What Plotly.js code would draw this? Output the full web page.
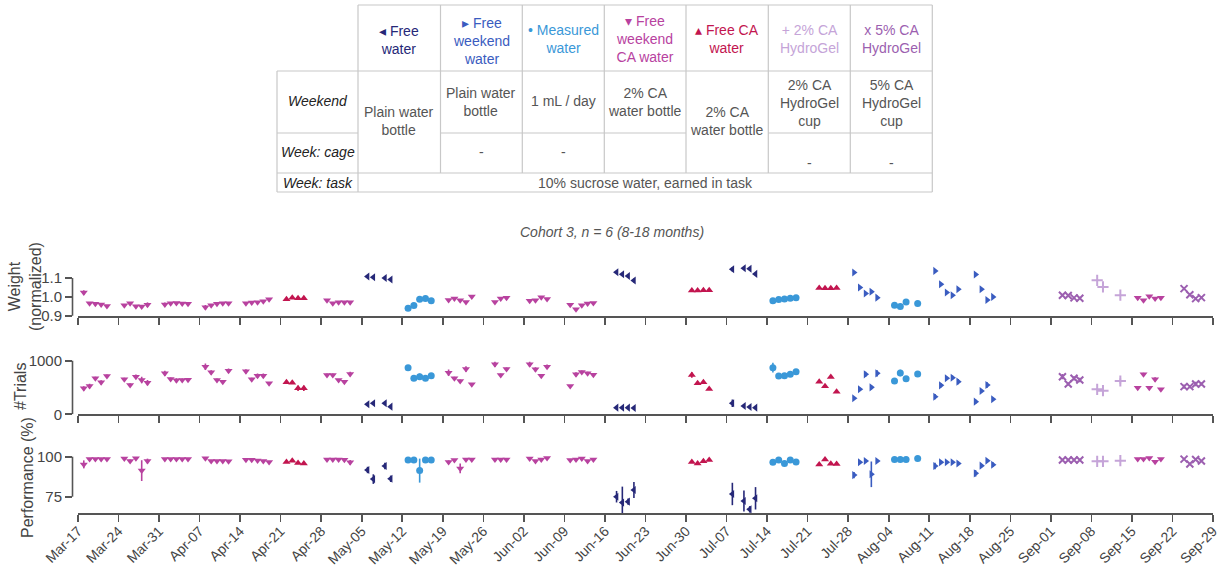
<!DOCTYPE html>
<html>
<head>
<meta charset="utf-8">
<script src="https://cdn.plot.ly/plotly-3.0.1.min.js"></script>
<style>html,body{margin:0;padding:0;background:#fff;}#chart{width:1225px;height:567px;}</style>
</head>
<body>
<div id="chart"></div>
<script>
// ---------------- DATA ----------------
const tickLabels = ["Mar-17","Mar-24","Mar-31","Apr-07","Apr-14","Apr-21","Apr-28","May-05","May-12","May-19","May-26","Jun-02","Jun-09","Jun-16","Jun-23","Jun-30","Jul-07","Jul-14","Jul-21","Jul-28","Aug-04","Aug-11","Aug-18","Aug-25","Sep-01","Sep-08","Sep-15","Sep-22","Sep-29"];
const tickDates = ["2024-03-17","2024-03-24","2024-03-31","2024-04-07","2024-04-14","2024-04-21","2024-04-28","2024-05-05","2024-05-12","2024-05-19","2024-05-26","2024-06-02","2024-06-09","2024-06-16","2024-06-23","2024-06-30","2024-07-07","2024-07-14","2024-07-21","2024-07-28","2024-08-04","2024-08-11","2024-08-18","2024-08-25","2024-09-01","2024-09-08","2024-09-15","2024-09-22","2024-09-29"];

// Free water (◄)
const fwDates = ["2024-05-06","2024-05-07","2024-05-09","2024-05-10","2024-06-18","2024-06-19","2024-06-20","2024-06-21","2024-07-08","2024-07-10","2024-07-11","2024-07-12"];
const fwWeight = [1.108,1.104,1.100,1.092,1.131,1.120,1.111,1.087,1.147,1.152,1.149,1.122];
const fwWeightErr = [0,0,0,0,0,0,0,0.01,0.012,0,0,0];
const fwTrials = [186,205,205,143,124,124,124,118,205,155,137,124];
const fwTrialsErr = [20,25,25,15,10,10,10,10,70,15,15,15];
const fwPerf = [91.7,86.0,94.2,86.2,75.0,71.3,71.9,79.2,76.7,72.3,67.1,74.0];
const fwPerfErr = [2,3,2,2,3.6,10,2,5,7,6.5,2,7];

// Free weekend water (►)
const fwwDates = ["2024-07-29","2024-07-30","2024-07-31","2024-08-01","2024-08-02","2024-08-12","2024-08-13","2024-08-14","2024-08-15","2024-08-16","2024-08-19","2024-08-20","2024-08-21","2024-08-22"];
const fwwWeight = [1.129,1.050,1.018,1.027,0.996,1.138,1.067,1.023,1.009,1.041,1.119,1.041,0.984,1.000];
const fwwWeightErr = [0,0,0.008,0.01,0.01,0,0,0,0,0.01,0,0,0.01,0.01];
const fwwTrials = [298,466,745,503,764,329,540,671,683,609,236,435,547,280];
const fwwTrialsErr = [20,30,50,40,60,50,40,30,40,50,40,30,50,30];
const fwwPerf = [88.5,96.5,97.3,89.0,97.3,94.2,96.5,96.5,96.5,95.8,89.6,94.4,97.5,95.0];
const fwwPerfErr = [2,0.5,0.5,8,0.5,2,1,0.5,0.5,1,2,1,0.5,1.5];

// Measured water (●)
const mwDates = ["2024-05-13","2024-05-14","2024-05-15","2024-05-16","2024-05-17","2024-07-15","2024-07-16","2024-07-17","2024-07-18","2024-07-19","2024-08-05","2024-08-06","2024-08-07","2024-08-09"];
const mwWeight = [0.940,0.954,0.988,0.991,0.980,0.979,0.986,0.989,0.993,0.995,0.956,0.949,0.973,0.965];
const mwWeightErr = [0,0,0.012,0,0,0,0,0,0,0,0,0,0,0];
const mwTrials = [870,671,702,671,720,870,714,720,745,795,621,770,665,752];
const mwTrialsErr = [40,40,60,40,40,90,40,40,40,50,20,60,20,20];
const mwPerf = [97.9,97.9,91.3,97.9,97.9,96.5,97.9,95.8,97.9,96.7,98.3,98.3,98.3,98.8];
const mwPerfErr = [0,0,7.5,0,0,1,0.5,1,0.5,0.5,0,0,0,0];

// Free weekend CA water (▼)
const fwcaDates = ["2024-03-18","2024-03-19","2024-03-20","2024-03-21","2024-03-22",
  "2024-03-25","2024-03-26","2024-03-27","2024-03-28","2024-03-29",
  "2024-04-01","2024-04-02","2024-04-03","2024-04-04","2024-04-05",
  "2024-04-08","2024-04-09","2024-04-10","2024-04-11","2024-04-12",
  "2024-04-15","2024-04-16","2024-04-17","2024-04-18","2024-04-19",
  "2024-04-29","2024-04-30","2024-05-01","2024-05-02","2024-05-03",
  "2024-05-20","2024-05-21","2024-05-22","2024-05-23","2024-05-24",
  "2024-05-28","2024-05-29","2024-05-30",
  "2024-06-03","2024-06-04","2024-06-05","2024-06-06",
  "2024-06-10","2024-06-11","2024-06-12","2024-06-13","2024-06-14",
  "2024-09-16","2024-09-17","2024-09-18","2024-09-19","2024-09-20"];
const fwcaWeight = [1.023,0.966,0.963,0.960,0.952,
  0.956,0.966,0.950,0.949,0.959,
  0.960,0.966,0.967,0.965,0.964,
  0.945,0.956,0.964,0.966,0.966,
  0.966,0.970,0.972,0.977,0.988,
  0.982,0.966,0.972,0.972,0.972,
  0.984,0.991,0.982,0.973,1.002,
  0.973,0.991,0.996,
  0.979,0.982,0.998,0.989,
  0.958,0.935,0.956,0.965,0.968,
  0.996,0.982,1.004,0.991,0.996];
const fwcaWeightErr = [0.012,0,0,0,0, 0,0,0,0,0.012, 0.01,0,0,0,0, 0.012,0,0,0,0, 0,0,0,0,0, 0,0,0,0,0, 0,0,0,0,0, 0,0,0, 0,0,0,0, 0,0,0,0,0, 0,0,0,0.008,0];
const fwcaTrials = [484,528,671,596,714,
  652,547,702,640,590,
  764,658,634,640,646,
  888,783,640,609,814,
  801,652,720,720,578,
  733,733,640,609,752,
  776,671,621,845,559,
  932,733,845,
  932,839,720,888,
  528,745,789,764,739,
  497,745,497,652,466];
const fwcaTrialsErr = [40,40,30,40,30, 30,30,40,60,50, 50,30,40,30,30, 60,40,30,30,40, 40,30,40,40,20, 30,30,20,30,40, 60,30,30,50,20, 50,30,30, 50,40,30,40, 20,40,30,30,30, 20,30,20,40,20];
const fwcaPerf = [95.2,98.5,98.5,98.5,98.5,
  98.8,97.3,99.0,91.3,97.3,
  98.5,98.5,98.5,98.5,98.5,
  99.0,97.3,97.3,97.3,97.1,
  98.1,98.1,97.7,97.3,96.7,
  98.3,98.3,98.3,98.1,96.5,
  96.7,97.9,92.7,98.3,98.3,
  98.3,98.3,98.3,
  98.8,97.3,98.3,99.2,
  97.9,98.3,98.8,97.3,98.3,
  98.5,98.5,99.2,96.9,98.5];
const fwcaPerfErr = [2.5,0,0,0,0, 0,1,0,6.5,1.5, 0,0,0,0,0, 0,0,0,0,0, 0,0,0,0,0, 0,0,0,0,1.5, 1,0,3,0,0, 0,0,0, 0,0,0,0, 0,0,0,0,0, 0,0,0,1,0];

// Free CA water (▲)
const fcaDates = ["2024-04-22","2024-04-23","2024-04-24","2024-04-25","2024-07-01","2024-07-02","2024-07-03","2024-07-04","2024-07-23","2024-07-24","2024-07-25","2024-07-26"];
const fcaWeight = [0.988,0.996,0.993,0.993,1.034,1.034,1.035,1.035,1.047,1.046,1.046,1.047];
const fcaTrials = [596,590,484,484,733,578,596,472,609,522,696,422];
const fcaTrialsErr = [30,20,50,50,50,20,30,20,20,20,20,20];
const fcaPerf = [96.7,97.5,96.0,95.8,96.7,95.8,97.1,97.9,95.2,98.3,95.6,95.4];

// 2% CA HydroGel (+)
const hg2Dates = ["2024-09-09","2024-09-10","2024-09-13"];
const hg2Weight = [1.088,1.053,1.009];
const hg2Trials = [466,441,621];
const hg2TrialsErr = [20,20,50];
const hg2Perf = [97.1,97.1,97.5];

// 5% CA HydroGel (x)
const hg5Dates = ["2024-09-03","2024-09-04","2024-09-05","2024-09-06","2024-09-24","2024-09-25","2024-09-26","2024-09-27"];
const hg5Weight = [1.009,1.007,0.995,0.993,1.044,1.011,0.991,0.996];
const hg5WeightErr = [0,0,0,0,0,0,0.008,0.008];
const hg5Trials = [702,565,671,640,516,516,565,565];
const hg5TrialsErr = [50,30,40,40,40,30,40,30];
const hg5Perf = [97.9,97.9,97.9,97.9,98.5,95.4,98.3,97.3];

// ---------------- STYLE / LAYOUT ----------------
const FONT = "Liberation Sans, Arial, Helvetica, sans-serif";
const AX = "#555555";
const W = 1225, H = 567;
const ML = 72, MR = 12, MT = 260, MB = 54;
const PW = W - ML - MR, PH = H - MT - MB;
const px2x = px => (px - ML) / PW;
const py2y = py => (H - MB - py) / PH;

function panel(topPx, botPx, refVal, refPx, pxPerUnit) {
  const v = p => refVal + (refPx - p) / pxPerUnit;
  return {domain: [py2y(botPx), py2y(topPx)], range: [v(botPx), v(topPx)]};
}
const P1 = panel(262, 316, 1.0, 296.9, 188.5);
const P2 = panel(340, 414.3, 0, 414.3, 0.0536);
const P3 = panel(440, 513, 100, 456.7, 1.6);

const conds = [
  {name:"Free weekend CA water", color:"#b8429f", symbol:"triangle-down", size:7, d:fwcaDates, w:fwcaWeight, we:fwcaWeightErr, t:fwcaTrials, te:fwcaTrialsErr, p:fwcaPerf, pe:fwcaPerfErr},
  {name:"Free CA water", color:"#c2154f", symbol:"triangle-up", size:7, d:fcaDates, w:fcaWeight, we:null, t:fcaTrials, te:fcaTrialsErr, p:fcaPerf, pe:null},
  {name:"Free water", color:"#262878", symbol:"triangle-left", size:7, d:fwDates, w:fwWeight, we:fwWeightErr, t:fwTrials, te:fwTrialsErr, p:fwPerf, pe:fwPerfErr},
  {name:"Measured water", color:"#3a98d8", symbol:"circle", size:7, d:mwDates, w:mwWeight, we:mwWeightErr, t:mwTrials, te:mwTrialsErr, p:mwPerf, pe:mwPerfErr},
  {name:"Free weekend water", color:"#3a5cc0", symbol:"triangle-right", size:7, d:fwwDates, w:fwwWeight, we:fwwWeightErr, t:fwwTrials, te:fwwTrialsErr, p:fwwPerf, pe:fwwPerfErr},
  {name:"2% CA HydroGel", color:"#c5a4d8", symbol:"cross-thin-open", size:8, d:hg2Dates, w:hg2Weight, we:null, t:hg2Trials, te:hg2TrialsErr, p:hg2Perf, pe:null},
  {name:"5% CA HydroGel", color:"#9c5fb0", symbol:"x-thin-open", size:7, d:hg5Dates, w:hg5Weight, we:hg5WeightErr, t:hg5Trials, te:hg5TrialsErr, p:hg5Perf, pe:null}
];

const traces = [];
conds.forEach(c => {
  const open = c.symbol.indexOf("open") >= 0;
  const marker = {symbol:c.symbol, size:c.size, color:c.color, line:{width: open ? 2 : 0, color:c.color}};
  const mk = (y, e, xa, ya) => {
    const tr = {type:"scatter", mode:"markers", x:c.d, y:y, xaxis:xa, yaxis:ya, marker:marker, name:c.name, showlegend:false, cliponaxis:false, hoverinfo:"x+y"};
    if (e) tr.error_y = {type:"data", array:e, visible:true, thickness:1.6, width:0, color:c.color};
    return tr;
  };
  traces.push(mk(c.w, c.we, "x", "y"));
  traces.push(mk(c.t, c.te, "x2", "y2"));
  traces.push(mk(c.p, c.pe, "x3", "y3"));
});

const xdom = [px2x(78), 1];
const xBase = {type:"date", domain:xdom, range:[tickDates[0], tickDates[tickDates.length-1]],
  tickmode:"array", tickvals:tickDates, ticktext:tickLabels,
  showline:true, linecolor:AX, linewidth:1.6, ticks:"outside", ticklen:7, tickwidth:1.6, tickcolor:AX,
  showgrid:false, zeroline:false, fixedrange:true};
const yBase = {anchor:"free", position:0, showline:false, ticks:"outside", ticklen:7, tickwidth:1.6, tickcolor:AX,
  showgrid:false, zeroline:false, tickfont:{size:15, color:"#444"}, tickmode:"array", fixedrange:true};

const layout = {
  width:W, height:H, margin:{l:ML, r:MR, t:MT, b:MB, pad:0},
  paper_bgcolor:"#fff", plot_bgcolor:"rgba(0,0,0,0)",
  font:{family:FONT, color:"#444", size:14},
  showlegend:false,
  xaxis: Object.assign({}, xBase, {anchor:"y", showticklabels:false}),
  xaxis2: Object.assign({}, xBase, {anchor:"y2", showticklabels:false}),
  xaxis3: Object.assign({}, xBase, {anchor:"y3", showticklabels:true, tickangle:-45, ticklabelstandoff:-4, tickfont:{size:14, color:"#444"}}),
  yaxis: Object.assign({}, yBase, {domain:P1.domain, range:P1.range, tickvals:[0.9,1.0,1.1], ticktext:["0.9","1.0","1.1"]}),
  yaxis2: Object.assign({}, yBase, {domain:P2.domain, range:P2.range, tickvals:[0,1000], ticktext:["0","1000"]}),
  yaxis3: Object.assign({}, yBase, {domain:P3.domain, range:P3.range, tickvals:[75,100], ticktext:["75","100"]}),
  shapes:[], annotations:[]
};

// partial y axis lines
[["y",0.9,1.1],["y2",0,1000],["y3",75,100]].forEach(([ya,a,b]) => {
  layout.shapes.push({type:"line", xref:"paper", yref:ya, x0:px2x(72.5), x1:px2x(72.5), y0:a, y1:b, line:{color:AX, width:1.6}});
});

const ann = (text, xpx, ypx, opts) => Object.assign({text:text, xref:"paper", yref:"paper", x:px2x(xpx), y:py2y(ypx), showarrow:false, xanchor:"center", yanchor:"middle"}, opts||{});
layout.annotations.push(ann("Weight<br>(normalized)", 25, 287, {textangle:-90, font:{size:16, color:"#444"}}));
layout.annotations.push(ann("#Trials", 20, 387, {textangle:-90, font:{size:16, color:"#444"}}));
layout.annotations.push(ann("Performance (%)", 27, 478, {textangle:-90, font:{size:16, color:"#444"}}));
layout.annotations.push(ann("<i>Cohort 3, n = 6 (8-18 months)</i>", 612, 231.5, {font:{size:14, color:"#555"}}));

// ---------------- TABLE ----------------
const cols = [277, 358, 440.5, 522.3, 604.3, 686, 768.3, 850.3, 932.3];
const BC = "#c8c8c8";
const hl = (y, x0, x1) => layout.shapes.push({type:"line", xref:"paper", yref:"paper", x0:px2x(x0), x1:px2x(x1), y0:py2y(y), y1:py2y(y), line:{color:BC, width:1.2}});
const vl = (x, y0, y1) => layout.shapes.push({type:"line", xref:"paper", yref:"paper", x0:px2x(x), x1:px2x(x), y0:py2y(y0), y1:py2y(y1), line:{color:BC, width:1.2}});
hl(5, cols[1], cols[8]);
hl(71, cols[0], cols[8]);
hl(133, cols[0], cols[1]);
hl(133, cols[2], cols[5]);
hl(133, cols[6], cols[8]);
hl(173, cols[0], cols[8]);
hl(192, cols[0], cols[8]);
vl(cols[0], 71, 192);
vl(cols[1], 5, 192);
for (let i = 2; i < 8; i++) vl(cols[i], 5, 173);
vl(cols[8], 5, 192);

const cx = i => (cols[i] + cols[i+1]) / 2;
const headers = [
  ["◂ Free<br>water", "#262878", 40.5],
  ["▸ Free<br>weekend<br>water", "#3a5cc0", 40.6],
  ["• Measured<br>water", "#3a98d8", 38.7],
  ["▾ Free<br>weekend<br>CA water", "#b8429f", 39.4],
  ["▴ Free CA<br>water", "#c2154f", 38.7],
  ["+ 2% CA<br>HydroGel", "#c5a4d8", 38.5],
  ["x 5% CA<br>HydroGel", "#9c5fb0", 38.5]
];
headers.forEach((h, i) => layout.annotations.push(ann(h[0], cx(i+1), h[2], {font:{size:14, color:h[1]}})));

const rowLabels = [["Weekend", 101], ["Week: cage", 152], ["Week: task", 183]];
rowLabels.forEach(r => layout.annotations.push(ann("<i>" + r[0] + "</i>", cx(0), r[1], {font:{size:14, color:"#222"}})));

const cells = [
  ["Plain water<br>bottle", 1, 120.5],
  ["Plain water<br>bottle", 2, 101.5],
  ["1 mL / day", 3, 101],
  ["2% CA<br>water bottle", 4, 101.5],
  ["2% CA<br>water bottle", 5, 120.5],
  ["2% CA<br>HydroGel<br>cup", 6, 103],
  ["5% CA<br>HydroGel<br>cup", 7, 103],
  ["-", 2, 152], ["-", 3, 152], ["-", 6, 163], ["-", 7, 163]
];
cells.forEach(c => layout.annotations.push(ann(c[0], cx(c[1]), c[2], {font:{size:14, color:"#555"}})));
layout.annotations.push(ann("10% sucrose water, earned in task", (cols[1] + cols[8]) / 2, 183, {font:{size:14, color:"#555"}}));

Plotly.newPlot("chart", traces, layout, {displayModeBar:false, staticPlot:true});
</script>
</body>
</html>
